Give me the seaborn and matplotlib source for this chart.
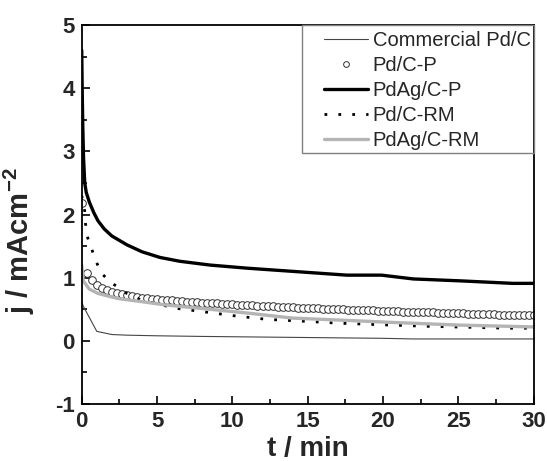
import numpy as np
import pandas as pd
import matplotlib
matplotlib.use("Agg")
import matplotlib.pyplot as plt
from matplotlib.ticker import MultipleLocator
from matplotlib.patches import Rectangle
import seaborn as sns

# Chronoamperometry curves: current density j (mA cm^-2) vs time t (min)
t_comm = [0, 0.1, 1.0, 2.0, 3.0, 5.0, 8.0, 12.0, 16.0, 20.0, 22.0, 25.0, 30.0]
j_comm = [0.62, 0.55, 0.15, 0.10, 0.09, 0.08, 0.07, 0.06, 0.05, 0.04, 0.03, 0.03, 0.03]

# Pd/C-P, one sample every 20 s
j_pdc_p = [2.18, 1.08, 0.96, 0.89, 0.83, 0.80, 0.78, 0.755, 0.735, 0.72,
           0.705, 0.695, 0.685, 0.676, 0.668, 0.660, 0.653, 0.646, 0.640, 0.634,
           0.628, 0.622, 0.617, 0.612, 0.607, 0.602, 0.597, 0.592, 0.588, 0.584,
           0.577, 0.573, 0.569, 0.565, 0.561, 0.557, 0.553, 0.549, 0.545, 0.541,
           0.537, 0.534, 0.531, 0.527, 0.524, 0.521, 0.518, 0.515, 0.512, 0.508,
           0.505, 0.502, 0.499, 0.496, 0.493, 0.490, 0.487, 0.484, 0.481, 0.478,
           0.475, 0.472, 0.470, 0.467, 0.464, 0.462, 0.459, 0.456, 0.454, 0.451,
           0.449, 0.446, 0.444, 0.441, 0.439, 0.436, 0.434, 0.431, 0.429, 0.427,
           0.424, 0.422, 0.420, 0.417, 0.415, 0.413, 0.411, 0.408, 0.406, 0.404, 0.402]
sample_interval_min = 20 / 60
t_pdc_p = [i * sample_interval_min for i in range(len(j_pdc_p))]

t_pdag_p = [0, 0.03, 0.07, 0.12, 0.2, 0.3, 0.5, 0.8, 1.08, 1.5, 2.0, 3.0, 4.0, 5.2,
            6.5, 8.5, 11.0, 14.0, 17.6, 19.9, 22.0, 25.1, 28.6, 30.0]
j_pdag_p = [4.6, 4.0, 3.4, 2.9, 2.5, 2.35, 2.2, 2.03, 1.90, 1.77, 1.66, 1.52, 1.41, 1.32,
            1.26, 1.20, 1.15, 1.10, 1.04, 1.04, 0.98, 0.95, 0.91, 0.91]

t_pdc_rm = [0, 0.2, 0.25, 0.37, 0.68, 0.97, 1.3, 1.97, 3.0, 4.0, 5.3, 6.1, 8.1, 10.0,
            12.3, 14.8, 17.0, 20.4, 23.0, 26.5, 28.3, 30.0]
j_pdc_rm = [2.3, 2.05, 1.86, 1.65, 1.44, 1.25, 1.07, 0.92, 0.75, 0.64, 0.57, 0.52, 0.46,
            0.40, 0.34, 0.31, 0.28, 0.25, 0.23, 0.21, 0.20, 0.20]

t_pdag_rm = [0, 0.1, 0.5, 1.08, 2.4, 4.0, 5.5, 8.5, 11.0, 14.0, 17.0, 20.8, 25.0, 30.0]
j_pdag_rm = [1.2, 0.95, 0.82, 0.75, 0.67, 0.62, 0.57, 0.50, 0.44, 0.36, 0.33, 0.29, 0.25, 0.22]

labels = ["Commercial Pd/C", "Pd/C-P", "PdAg/C-P", "Pd/C-RM", "PdAg/C-RM"]

sns.set_style("ticks")
plt.rcParams["font.family"] = ["Liberation Sans", "DejaVu Sans"]
plt.rcParams["mathtext.fontset"] = "custom"
plt.rcParams["mathtext.rm"] = "Liberation Sans"
plt.rcParams["mathtext.bf"] = "Liberation Sans:bold"
plt.rcParams["axes.unicode_minus"] = False

fig = plt.figure(figsize=(5.47, 4.61), dpi=100)
ax = fig.add_axes([0.1494, 0.1236, 0.8263, 0.8222])

df_comm = pd.DataFrame({"t": t_comm, "j": j_comm})
df_pdc_p = pd.DataFrame({"t": t_pdc_p, "j": j_pdc_p})
df_pdag_p = pd.DataFrame({"t": t_pdag_p, "j": j_pdag_p})
df_pdc_rm = pd.DataFrame({"t": t_pdc_rm, "j": j_pdc_rm})
df_pdag_rm = pd.DataFrame({"t": t_pdag_rm, "j": j_pdag_rm})

sns.lineplot(data=df_comm, x="t", y="j", ax=ax, color="#454545", lw=0.8,
             label=labels[0], sort=False)
sns.lineplot(data=df_pdc_p, x="t", y="j", ax=ax, color="#303030", lw=0,
             marker="o", markersize=5.5, markerfacecolor="white",
             markeredgecolor="#303030", markeredgewidth=0.7, label=labels[1], sort=False)
sns.lineplot(data=df_pdag_p, x="t", y="j", ax=ax, color="black", lw=2.4,
             label=labels[2], sort=False)
sns.lineplot(data=df_pdc_rm, x="t", y="j", ax=ax, color="black", lw=2.0,
             linestyle=(0, (1, 4)), label=labels[3], sort=False)
sns.lineplot(data=df_pdag_rm, x="t", y="j", ax=ax, color="#b4b4b4", lw=2.4,
             label=labels[4], sort=False)

ax.set_xlim(0, 30)
ax.set_ylim(-1, 5)
ax.xaxis.set_major_locator(MultipleLocator(5))
ax.xaxis.set_minor_locator(MultipleLocator(2.5))
ax.yaxis.set_major_locator(MultipleLocator(1))
ax.yaxis.set_minor_locator(MultipleLocator(0.5))
ax.tick_params(which="both", direction="in", top=False, right=False, width=1.2,
               color="black")
ax.tick_params(which="major", length=6, labelsize=16, pad=5)
ax.tick_params(which="minor", length=3.5)
for lab in ax.get_xticklabels() + ax.get_yticklabels():
    lab.set_fontweight("bold")
for sp in ax.spines.values():
    sp.set_visible(True)
    sp.set_linewidth(1.3)
    sp.set_color("black")

ax.set_xlabel("t / min", fontsize=20, fontweight="bold")
ax.set_ylabel(r"j / mAcm$^{\mathbf{-2}}$", fontsize=21, fontweight="bold")
ax.xaxis.set_label_coords(0.5, -0.085)
ax.yaxis.set_label_coords(-0.10, 0.43)

leg = ax.legend(loc="upper right", bbox_to_anchor=(1.0, 0.992), fontsize=14.5,
                frameon=False, borderaxespad=0, handlelength=2.15,
                handletextpad=0.25, labelspacing=0.3, borderpad=0.15,
                markerscale=0.75)
# legend frame spanning the full box width
ax.add_patch(Rectangle((0.487, 0.662), 0.513, 0.338, transform=ax.transAxes,
                       fill=False, edgecolor="#808080", lw=1.0, zorder=5,
                       clip_on=False))

fig.savefig("out.png", dpi=100)
